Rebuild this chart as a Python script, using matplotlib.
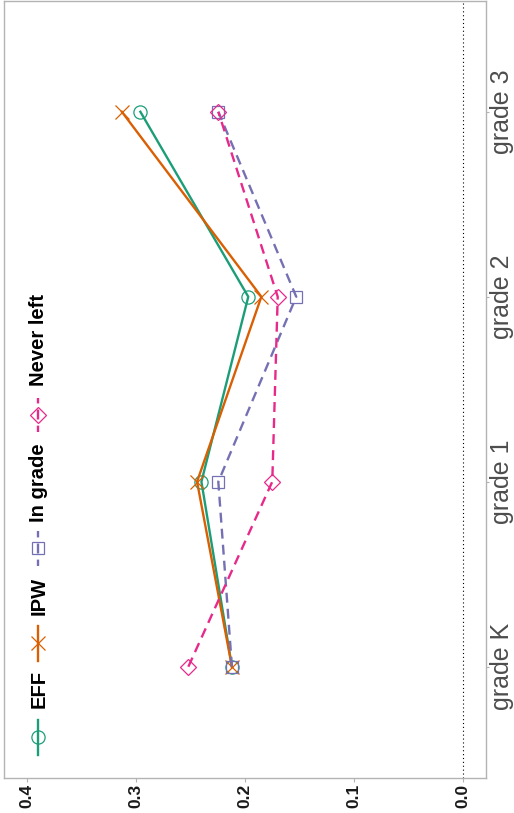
"""Rotated line chart: estimates by grade for four methods."""

import matplotlib

matplotlib.use("Agg")

import matplotlib.pyplot as plt

plt.rcParams["font.family"] = ["Liberation Sans", "DejaVu Sans"]

# data
grades = ["grade K", "grade 1", "grade 2", "grade 3"]
eff = [0.212, 0.240, 0.197, 0.296]
ipw = [0.212, 0.244, 0.185, 0.313]
in_grade = [0.212, 0.2245, 0.153, 0.2245]
never_left = [0.252, 0.175, 0.170, 0.2245]
value_ticks = [0.0, 0.1, 0.2, 0.3, 0.4]

series = [
    ("EFF", eff, "#1b9e77", "o", False, 9.5),
    ("IPW", ipw, "#d95f02", "x", False, 10),
    ("In grade", in_grade, "#7570b3", "s", True, 9),
    ("Never left", never_left, "#e7298a", "D", True, 8),
]
DASH = (4.2, 2.6)

W, H = 514, 813
fig = plt.figure(figsize=(W / 100, H / 100), dpi=100)
left, right, top, bottom = 4, 485.7, 1.5, 777.7
ax = fig.add_axes([left / W, 1 - bottom / H, (right - left) / W, (bottom - top) / H])

ypos = list(range(1, len(grades) + 1))
for name, vals, color, marker, dashed, ms in series:
    ax.plot(vals, ypos, color=color, lw=1.7, ls=(0, DASH) if dashed else "-",
            marker=marker, ms=ms, mfc="none", mec=color, mew=0.9, zorder=3)

ax.axvline(0, color="black", lw=0.8, ls=(0, (1, 2.5)), zorder=1)

ax.set_xlim(0.4211, -0.0208)
ax.set_ylim(0.4, 4.596)

ax.set_xticks(value_ticks)
ax.set_xticklabels([f"{v:.1f}" for v in value_ticks], rotation=90, fontweight="bold",
                   fontsize=12.5, color="#1a1a1a", va="top", ha="center")
ax.set_yticks(ypos)
ax.set_yticklabels(grades, rotation=90, fontsize=18, color="#4d4d4d", va="center", ha="left")
ax.yaxis.tick_right()
ax.tick_params(axis="x", length=3, width=0.8, color="#b3b3b3", pad=1.5)
ax.tick_params(axis="y", length=2.5, width=0.8, color="#b3b3b3", pad=0.5)
for sp in ax.spines.values():
    sp.set_color("#b3b3b3")
    sp.set_linewidth(1.0)

# legend, drawn rotated: key centres and text starts in pixels from the top
key_x = (37.5 - left) / (right - left)
text_x = (44.5 - left) / (right - left)
key_y_px = [737, 643, 548, 415]
text_y_px = [708, 615, 522, 386]
for (name, vals, color, marker, dashed, ms), ky, ty in zip(series, key_y_px, text_y_px):
    yc = (bottom - ky) / (bottom - top)
    half = 17.5 / (bottom - top)
    ax.plot([key_x, key_x], [yc - half, yc + half], color=color, lw=1.7,
            ls=(1.5, DASH) if dashed else "-",
            transform=ax.transAxes, clip_on=False, zorder=4)
    ax.plot([key_x], [yc], marker=marker, ms=ms, mfc="none",
            mec=color, mew=0.9, color=color, transform=ax.transAxes, zorder=4)
    ax.text(text_x, (bottom - ty) / (bottom - top), name, rotation=90, fontsize=14.5,
            fontweight="bold", color="black", ha="left", va="baseline",
            transform=ax.transAxes, rotation_mode="anchor")

fig.savefig("out.png", dpi=100)
